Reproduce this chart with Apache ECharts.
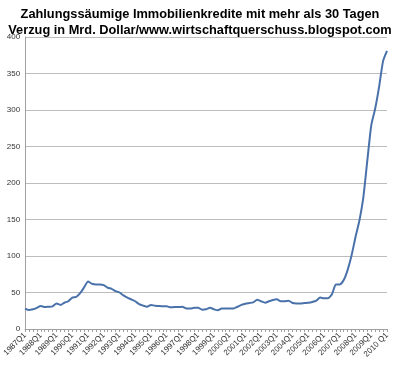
<!DOCTYPE html>
<html><head><meta charset="utf-8">
<script src="https://cdn.jsdelivr.net/npm/echarts@6/dist/echarts.min.js"></script>
<style>html,body{margin:0;padding:0;background:#fff}#c{width:400px;height:367px}</style>
</head><body><div id="c"></div>
<script>
const titleText = "Zahlungssäumige Immobilienkredite mit mehr als 30 Tagen\nVerzug in Mrd. Dollar/www.wirtschaftquerschuss.blogspot.com";
const startYear = 1987;
const values = [
 28,26,27,29,31.5,30,30.5,31,35,33,36,38,43,44,49,57,
 65,62,61,61,60,56.5,55,52,50,46,43,40.5,38,34,32,30.5,
 33,32,31.5,31,31,29.7,30,30,30.5,28,28,29,29,26.5,27,29,
 27,25.6,28,28,28,28,30.5,33,34.7,35.6,36.5,40,38,36,
 38,39.7,40.6,38,38,38.8,35.6,35,35,35.6,36,37,38.8,43,
 42,42,47.5,61,61,67,81,101,126,149,181,231,279,302,
 332,367,381
];
const categories = values.map((v,i)=>{
  const y = startYear + Math.floor(i/4), q = i%4+1;
  return (y===2010) ? y+" Q"+q : y+"Q"+q;
});
const yTicks = {min:0, max:400, interval:50};

const chart = echarts.init(document.getElementById('c'));
chart.setOption({
  animation:false,
  title:{text:titleText,left:'center',top:1,textStyle:{fontFamily:'Liberation Sans',fontWeight:'bold',fontSize:12.8,lineHeight:16,color:'#000'}},
  grid:{left:23,right:13,top:37,bottom:38,containLabel:false},
  xAxis:{type:'category',data:categories,boundaryGap:false,
    axisLine:{lineStyle:{color:'#a0a0a0',width:1}},
    axisTick:{show:true,interval:0,length:3,lineStyle:{color:'#a0a0a0'}},
    axisLabel:{interval:3,rotate:45,fontSize:8,color:'#333',fontFamily:'Liberation Sans',margin:5},
    splitLine:{show:false}},
  yAxis:{type:'value',min:yTicks.min,max:yTicks.max,interval:yTicks.interval,
    axisLine:{show:true,lineStyle:{color:'#a0a0a0'}},
    axisTick:{show:false},
    axisLabel:{fontSize:8,color:'#333',fontFamily:'Liberation Sans',margin:5},
    splitLine:{lineStyle:{color:'#bdbdbd',width:1}}},
  series:[{type:'line',data:values,showSymbol:false,smooth:0.2,
    lineStyle:{color:'#4a72aa',width:2}}]
});
</script></body></html>
